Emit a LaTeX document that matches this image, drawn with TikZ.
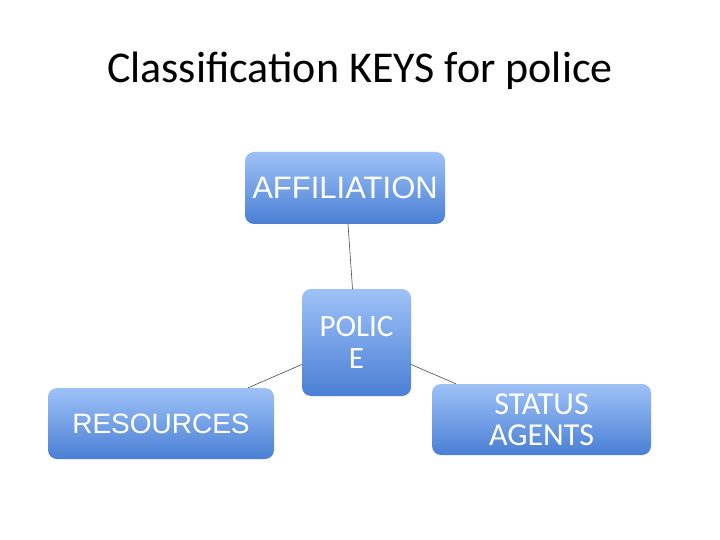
\documentclass[tikz,border=0pt]{standalone}
\usepackage{fontspec}
\setmainfont{Carlito}
\newfontfamily\arialfont{Liberation Sans}
\definecolor{KeyTop}{HTML}{9EC2F7}
\definecolor{KeyBottom}{HTML}{4A7FD5}
\definecolor{KeyLine}{HTML}{4A4A4A}
\tikzset{
  keybox/.style={rounded corners=9pt,top color=KeyTop,bottom color=KeyBottom,
    text=white,align=center,inner sep=0pt},
  link/.style={KeyLine,line width=.6pt}
}
\begin{document}
\begin{tikzpicture}[x=1pt,y=-1pt]
  \useasboundingbox[fill=white] (0,0) rectangle (720,540);
  \node[anchor=base,font=\fontsize{44}{50}\selectfont] (title) at (360,83) {Classification KEYS for police};
  \node[keybox,minimum width=200pt,minimum height=72pt,font=\arialfont\fontsize{31}{36}\selectfont] (aff) at (345,188) {AFFILIATION};
  \node[keybox,minimum width=109pt,minimum height=107pt,font=\fontsize{31}{32}\selectfont] (pol) at (356.5,342.5) {POLIC\\E};
  \node[keybox,minimum width=226pt,minimum height=71pt,font=\arialfont\fontsize{28}{32}\selectfont] (res) at (161,423.5) {RESOURCES};
  \node[keybox,minimum width=219pt,minimum height=71pt,font=\fontsize{32}{31}\selectfont] (stat) at (541.5,419.5) {STATUS\\AGENTS};
  \draw[link] ([xshift=3pt]aff.south) -- ([xshift=-4pt]pol.north);
  \draw[link] ([yshift=-22pt]pol.west) -- ([xshift=-26pt]res.north east);
  \draw[link] ([yshift=-22pt]pol.east) -- ([xshift=24pt]stat.north west);
\end{tikzpicture}
\end{document}
